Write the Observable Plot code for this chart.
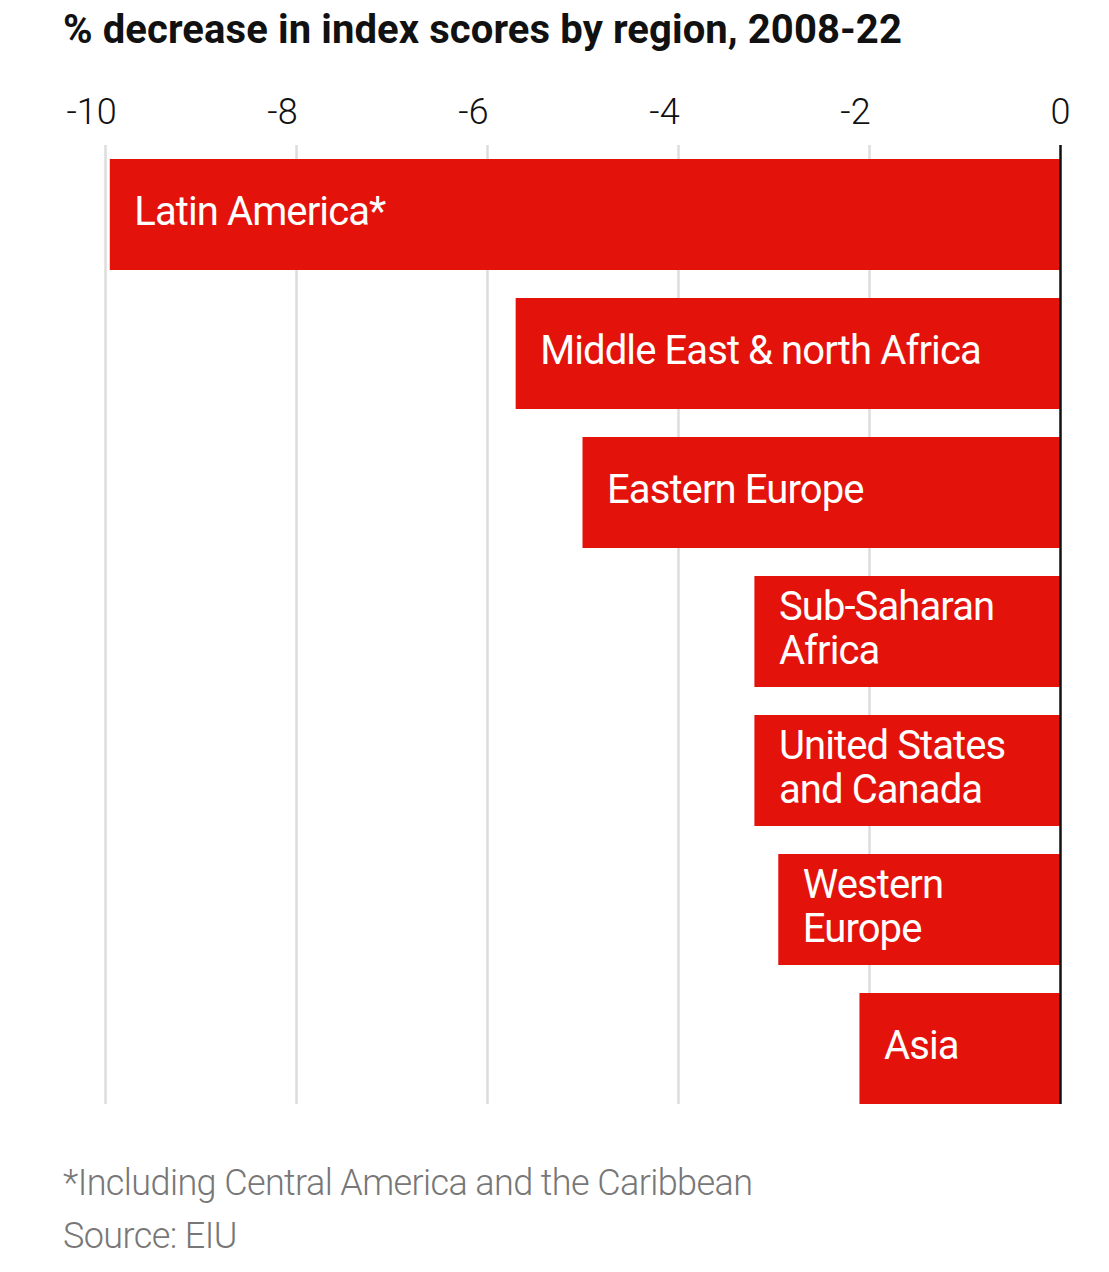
<!DOCTYPE html>
<html>
<head>
<meta charset="utf-8">
<script src="https://cdn.jsdelivr.net/npm/d3@7"></script>
<script src="https://cdn.jsdelivr.net/npm/@observablehq/plot@0.6"></script>
<style>
  body { margin: 0; background: #fff; width: 1109px; }
  #title { font-family: "Roboto", sans-serif; font-weight: 700; font-size: 40px; line-height: 60px; height: 60px; padding-left: 63px; color: #111; letter-spacing: 0.1px; }
  #foot { font-family: "Roboto", sans-serif; font-weight: 300; font-size: 36px; line-height: 53px; padding-left: 63px; color: #777; margin-top: 35px; letter-spacing: -0.6px; }
  svg { display: block; }
  .barlabel text { letter-spacing: -0.9px; }
</style>
</head>
<body>
<div id="title">% decrease in index scores by region, 2008-22</div>
<div id="chart"></div>
<div id="foot">*Including Central America and the Caribbean<br>Source: EIU</div>
<script>
const regions = ["Latin America*", "Middle East & north Africa", "Eastern Europe", "Sub-Saharan\nAfrica", "United States\nand Canada", "Western\nEurope", "Asia"];
const values = [-9.95, -5.7, -5.0, -3.2, -3.2, -2.95, -2.1];
const ticks = [-10, -8, -6, -4, -2, 0];

const data = regions.map((r, i) => ({region: r, value: values[i]}));
const font = '"Roboto", sans-serif';

const chart = Plot.plot({
  width: 1109,
  height: 1062,
  marginLeft: 105,
  marginRight: 49,
  marginTop: 99,
  marginBottom: 18,
  style: {fontFamily: font, background: "#fff"},
  x: {domain: [-10, 0], axis: null},
  y: {domain: regions, paddingInner: 0.205, paddingOuter: 0, axis: null},
  marks: [
    Plot.ruleX(ticks.filter(d => d !== 0), {stroke: "#dcdcdc", strokeWidth: 2.5, insetTop: -14}),
    Plot.axisX(ticks.filter(d => d !== 0), {anchor: "top", label: null, tickSize: 0, tickPadding: 36, dx: -14, fontSize: 36, fill: "#111", fontWeight: 300, tickFormat: d => "-" + Math.abs(d)}),
    Plot.axisX([0], {anchor: "top", label: null, tickSize: 0, tickPadding: 36, fontSize: 36, fill: "#111", fontWeight: 300, tickFormat: d => "0"}),
    Plot.barX(data, {x: "value", y: "region", fill: "#e3120b"}),
    Plot.ruleX([0], {stroke: "#111", strokeWidth: 2.5, insetTop: -14}),
    Plot.text(data, {x: "value", y: "region", text: "region", dx: 24, dy: -4, textAnchor: "start", fill: "#fff", fontSize: 40, lineHeight: 1.1, className: "barlabel"})
  ]
});
document.getElementById("chart").appendChild(chart);
</script>
</body>
</html>
